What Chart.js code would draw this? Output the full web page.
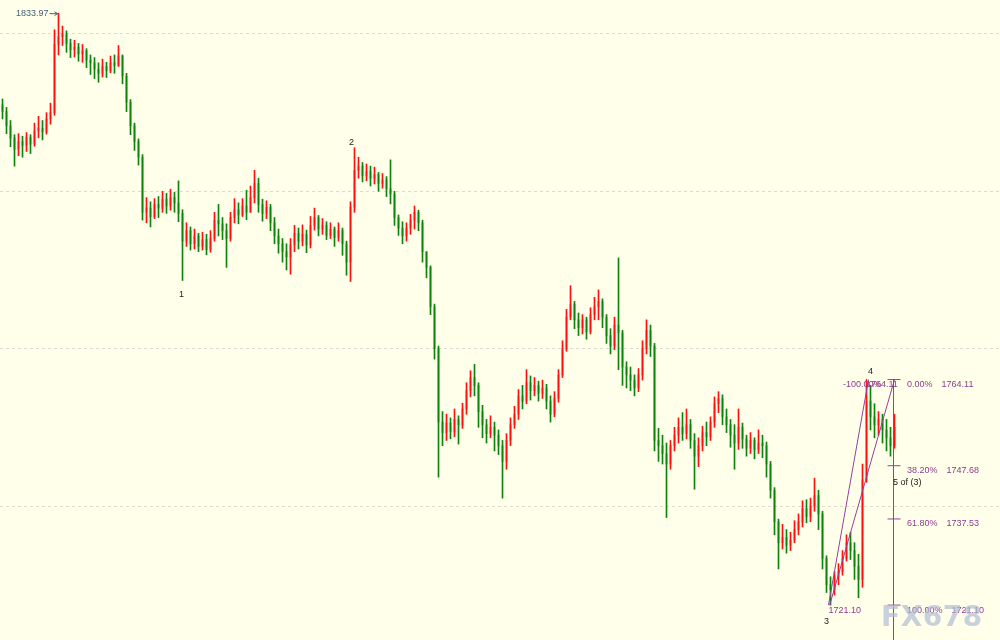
<!DOCTYPE html>
<html>
<head>
<meta charset="utf-8">
<script src="https://cdn.jsdelivr.net/npm/chart.js@4.4.0/dist/chart.umd.min.js"></script>
<style>
  html, body { margin: 0; padding: 0; background: #ffffea; }
  #wrap { width: 1000px; height: 640px; }
</style>
</head>
<body>
<div id="wrap"><canvas id="goldChart" width="1000" height="640"></canvas></div>
<script>
// price data, one candle per bar (open = previous close)
const firstOpen = 1816.5;
const closes = [
    1815.2, 1812.5, 1810.2, 1808.0, 1809.5, 1808.8, 1810.3, 1809.0, 1811.5, 1812.0,
    1811.3, 1813.8, 1815.0, 1828.0, 1829.5, 1830.0, 1828.2, 1827.0, 1827.5, 1826.2,
    1826.8, 1825.0, 1824.5, 1823.3, 1822.5, 1823.8, 1823.0, 1824.5, 1824.0, 1825.8,
    1822.0, 1817.0, 1812.5, 1809.5, 1806.5, 1796.0, 1796.8, 1795.2, 1797.5, 1796.8,
    1798.5, 1797.2, 1798.8, 1797.8, 1795.8, 1790.5, 1792.5, 1790.0, 1791.5, 1789.5,
    1790.8, 1788.9, 1791.0, 1794.5, 1793.8, 1792.5, 1791.0, 1795.0, 1796.5, 1795.5,
    1797.2, 1796.0, 1798.8, 1801.5, 1797.5, 1795.8, 1797.0, 1794.0, 1791.5, 1790.0,
    1788.5, 1787.5, 1789.8, 1792.0, 1790.5, 1791.8, 1789.8, 1793.5, 1795.0, 1792.8,
    1793.5, 1791.6, 1792.8, 1791.2, 1792.5, 1790.0, 1786.5, 1797.0, 1804.0, 1804.8,
    1803.0, 1803.8, 1802.5, 1803.2, 1801.5, 1802.2, 1800.5, 1799.5, 1795.0, 1793.0,
    1791.5, 1793.0, 1794.5, 1796.0, 1794.0, 1788.5, 1785.5, 1778.0, 1770.0, 1756.0,
    1754.0, 1755.8, 1754.2, 1756.5, 1755.5, 1758.5, 1762.0, 1764.5, 1763.0, 1758.0,
    1755.5, 1753.8, 1755.0, 1753.5, 1751.5, 1748.5, 1752.5, 1755.5, 1757.5, 1761.0,
    1760.0, 1763.5, 1762.0, 1763.0, 1761.5, 1762.5, 1760.0, 1757.5, 1760.5, 1765.0,
    1770.0, 1776.0, 1778.5, 1775.5, 1774.0, 1775.5, 1773.2, 1776.5, 1778.0, 1779.0,
    1776.0, 1772.5, 1770.5, 1774.5, 1773.0, 1766.5, 1765.0, 1764.0, 1762.5, 1765.0,
    1770.0, 1773.5, 1770.5, 1752.5, 1751.5, 1750.0, 1748.0, 1751.5, 1753.5, 1755.0,
    1753.8, 1755.5, 1752.5, 1749.5, 1751.5, 1754.0, 1753.2, 1756.0, 1759.5, 1760.5,
    1757.0, 1755.5, 1753.5, 1752.0, 1755.0, 1752.8, 1751.0, 1752.5, 1750.8, 1752.0,
    1751.5, 1748.0, 1743.0, 1737.0, 1733.0, 1734.0, 1732.5, 1733.5, 1735.5, 1737.0,
    1739.5, 1738.0, 1740.0, 1742.0, 1738.5, 1730.0, 1725.0, 1724.0, 1726.5, 1727.5,
    1730.0, 1733.0, 1731.5, 1728.5, 1726.0, 1745.0, 1760.0, 1757.0, 1755.5, 1756.5,
    1754.5, 1753.0, 1751.5, 1755.0
];
const highs = [
    1817.6, 1816.0, 1813.5, 1810.8, 1811.0, 1810.5, 1811.2, 1810.8, 1813.0, 1814.3,
    1813.5, 1815.0, 1816.8, 1830.8, 1833.97, 1831.5, 1830.6, 1829.0, 1828.8, 1828.2,
    1828.0, 1827.2, 1826.0, 1825.5, 1824.5, 1825.2, 1824.6, 1825.8, 1826.0, 1827.8,
    1826.0, 1822.5, 1817.5, 1813.0, 1810.0, 1807.0, 1798.8, 1798.0, 1798.6, 1799.0,
    1800.0, 1799.6, 1800.4, 1799.8, 1802.0, 1796.5, 1794.0, 1793.2, 1792.8, 1792.0,
    1792.2, 1791.8, 1792.5, 1796.0, 1797.5, 1795.0, 1793.8, 1796.0, 1798.6, 1797.8,
    1798.6, 1800.2, 1801.0, 1804.0, 1802.5, 1798.5, 1798.2, 1797.5, 1795.0, 1792.8,
    1791.0, 1790.0, 1791.0, 1793.5, 1793.0, 1793.6, 1792.6, 1795.2, 1796.8, 1795.4,
    1794.8, 1794.2, 1794.0, 1793.2, 1794.0, 1793.0, 1790.5, 1798.0, 1808.3, 1806.5,
    1805.5, 1805.2, 1804.8, 1804.6, 1803.6, 1803.4, 1802.8, 1806.0, 1800.0, 1795.5,
    1794.2, 1794.0, 1795.6, 1797.2, 1796.4, 1794.5, 1788.5, 1785.8, 1778.5, 1770.5,
    1758.0, 1757.5, 1756.8, 1758.5, 1757.2, 1759.6, 1763.5, 1765.8, 1767.0, 1763.5,
    1759.2, 1756.5, 1757.2, 1756.0, 1754.5, 1752.5, 1753.8, 1756.8, 1759.0, 1762.2,
    1763.0, 1766.0, 1764.8, 1764.5, 1763.8, 1764.0, 1763.2, 1761.0, 1761.8, 1766.0,
    1771.5, 1777.5, 1782.0, 1779.0, 1776.8, 1776.5, 1776.0, 1777.8, 1779.8, 1781.2,
    1779.5, 1776.5, 1773.8, 1776.0, 1787.3, 1773.5, 1767.5, 1766.5, 1765.0, 1766.2,
    1771.5, 1775.5, 1774.5, 1771.0, 1754.8, 1753.5, 1752.0, 1752.5, 1755.0, 1756.8,
    1757.8, 1758.5, 1756.5, 1753.8, 1753.0, 1755.2, 1756.0, 1757.0, 1760.8, 1761.8,
    1761.2, 1758.5, 1756.5, 1755.5, 1758.5, 1755.8, 1753.5, 1754.0, 1753.0, 1754.5,
    1753.5, 1752.2, 1748.5, 1743.5, 1737.5, 1736.5, 1735.5, 1735.0, 1737.2, 1738.5,
    1741.0, 1741.2, 1741.5, 1745.3, 1743.0, 1739.0, 1730.5, 1726.5, 1727.5, 1729.0,
    1731.5, 1734.5, 1735.0, 1733.0, 1730.8, 1748.0, 1764.11, 1763.0, 1759.5, 1758.0,
    1757.5, 1756.5, 1755.0, 1757.5
];
const lows = [
    1813.8, 1811.0, 1808.5, 1804.8, 1806.8, 1806.5, 1807.6, 1807.2, 1808.6, 1810.2,
    1809.8, 1810.9, 1812.8, 1814.5, 1826.0, 1827.8, 1826.5, 1825.5, 1825.6, 1824.8,
    1824.6, 1823.6, 1822.3, 1821.5, 1820.8, 1821.8, 1821.7, 1822.6, 1822.5, 1823.8,
    1820.5, 1815.2, 1810.8, 1807.8, 1805.0, 1794.5, 1794.0, 1793.2, 1794.8, 1795.0,
    1796.0, 1795.8, 1796.4, 1796.0, 1794.2, 1783.0, 1789.5, 1788.8, 1789.0, 1788.5,
    1788.8, 1787.9, 1788.4, 1790.5, 1791.5, 1790.8, 1785.5, 1790.5, 1794.0, 1793.8,
    1795.2, 1794.6, 1796.0, 1797.8, 1796.0, 1794.3, 1794.8, 1792.5, 1790.0, 1788.2,
    1786.5, 1785.0, 1784.2, 1788.5, 1789.0, 1789.6, 1788.3, 1789.2, 1792.6, 1791.5,
    1791.8, 1790.8, 1791.0, 1789.5, 1790.5, 1787.8, 1784.0, 1782.8, 1796.0, 1802.5,
    1801.8, 1802.0, 1801.0, 1801.4, 1800.0, 1800.6, 1799.0, 1797.6, 1793.5, 1791.6,
    1790.0, 1790.5, 1791.8, 1792.8, 1792.5, 1786.5, 1783.5, 1776.5, 1768.0, 1745.5,
    1751.5, 1752.5, 1752.8, 1753.2, 1751.8, 1754.8, 1757.5, 1760.8, 1761.0, 1755.0,
    1753.0, 1752.0, 1753.0, 1750.5, 1749.8, 1741.5, 1747.0, 1751.5, 1754.8, 1756.5,
    1758.5, 1759.5, 1760.2, 1761.0, 1760.0, 1760.5, 1758.5, 1756.0, 1757.0, 1759.8,
    1764.5, 1769.5, 1775.5, 1773.8, 1772.5, 1772.8, 1771.8, 1772.8, 1775.5, 1775.5,
    1774.0, 1771.0, 1769.0, 1769.8, 1766.0, 1763.0, 1762.5, 1762.0, 1761.0, 1761.8,
    1764.0, 1769.0, 1768.5, 1750.5, 1748.5, 1748.0, 1737.8, 1747.0, 1750.5, 1752.0,
    1752.5, 1752.8, 1751.0, 1743.2, 1747.5, 1750.5, 1751.5, 1752.5, 1755.0, 1757.8,
    1755.5, 1754.0, 1751.2, 1747.0, 1750.8, 1751.0, 1749.5, 1750.0, 1749.0, 1750.0,
    1749.2, 1745.5, 1741.5, 1734.5, 1728.0, 1731.8, 1731.0, 1731.5, 1733.0, 1734.5,
    1736.0, 1736.8, 1737.0, 1739.0, 1735.5, 1728.0, 1723.5, 1721.1, 1723.0, 1725.0,
    1726.8, 1729.5, 1729.8, 1726.0, 1722.5, 1724.5, 1744.5, 1754.5, 1753.0, 1753.5,
    1752.0, 1750.5, 1749.5, 1751.0
];

const gridLevels = [1740, 1770, 1800, 1830];
const fibLevels = [1764.11, 1747.68, 1737.53, 1721.10];
const fibLabels = ['0.00%', '38.20%', '61.80%', '100.00%'];
const topPrice = 1833.97;

const opens = closes.map((c, i) => i === 0 ? firstOpen : closes[i - 1]);
const upBar = i => closes[i] >= opens[i];

const purple = '#96409a';

// fib tool + the two trend lines from the 1721.10 low
const trendLines = [
    [{ x: 206.5, y: 1721.10 }, { x: 216.5, y: 1764.11 }],
    [{ x: 206.8, y: 1721.10 }, { x: 223.0, y: 1764.11 }]
];
const fibStem = [{ x: 222.75, y: 1764.11 }, { x: 222.75, y: 1700 }];

const lineSet = pts => ({
    type: 'line',
    data: pts,
    borderColor: purple,
    borderWidth: 1,
    pointRadius: 0,
    order: -1
});

const datasets = [{
    label: 'wick',
    data: closes.map((c, i) => ({ x: i, y: [lows[i], highs[i]] })),
    backgroundColor: closes.map((c, i) => upBar(i) ? '#ff1010' : '#0a840a'),
    barThickness: 1,
    grouped: false,
    order: 0
}, {
    label: 'body',
    data: closes.map((c, i) => ({ x: i, y: [opens[i], closes[i]] })),
    backgroundColor: closes.map((c, i) => upBar(i) ? 'rgba(255,60,60,0.45)' : 'rgba(40,150,40,0.45)'),
    barThickness: 2,
    minBarLength: 1,
    grouped: false,
    order: 1
}];
trendLines.forEach(t => datasets.push(lineSet(t)));
datasets.push(lineSet(fibStem));
fibLevels.forEach(v => datasets.push(lineSet([{ x: 221.25, y: v }, { x: 224.5, y: v }])));

// text labels drawn on top of the chart
const labelsPlugin = {
    id: 'labels',
    afterDatasetsDraw(chart) {
        const ctx = chart.ctx;
        const xs = chart.scales.x, ys = chart.scales.y;
        ctx.save();
        ctx.font = '9px "Liberation Sans"';
        ctx.textBaseline = 'middle';

        // top price label with arrow
        const hx = xs.getPixelForValue(14), hy = ys.getPixelForValue(topPrice);
        ctx.fillStyle = '#44607a';
        ctx.strokeStyle = '#44607a';
        ctx.textAlign = 'right';
        ctx.fillText(topPrice.toFixed(2), hx - 10, hy);
        ctx.beginPath();
        ctx.moveTo(hx - 9, hy + 0.5);
        ctx.lineTo(hx - 1, hy + 0.5);
        ctx.moveTo(hx - 4, hy - 1.5);
        ctx.lineTo(hx - 1, hy + 0.5);
        ctx.lineTo(hx - 4, hy + 2.5);
        ctx.stroke();

        // fib levels
        ctx.textAlign = 'left';
        ctx.fillStyle = '#8e3c8e';
        fibLevels.forEach((v, k) => {
            const y = ys.getPixelForValue(v) + 5;
            ctx.fillText(fibLabels[k], 907, y);
            const w = ctx.measureText(fibLabels[k]).width;
            ctx.fillText(v.toFixed(2), 907 + w + 9, y);
        });
        const y0 = ys.getPixelForValue(1764.11) + 5;
        ctx.fillText('-100.00%', 843, y0);
        ctx.fillText('1764.11', 866, y0);
        ctx.fillText('1721.10', xs.getPixelForValue(206.5), ys.getPixelForValue(1721.10) + 5);

        // wave counts
        ctx.fillStyle = '#222';
        ctx.textAlign = 'center';
        ctx.fillText('1', xs.getPixelForValue(44.75), ys.getPixelForValue(1780.4));
        ctx.fillText('2', xs.getPixelForValue(87.25), ys.getPixelForValue(1809.4));
        ctx.fillText('3', xs.getPixelForValue(206), ys.getPixelForValue(1717.9));
        ctx.fillText('4', xs.getPixelForValue(217), ys.getPixelForValue(1765.7));
        ctx.textAlign = 'left';
        ctx.fillText('5 of (3)', 893, ys.getPixelForValue(1744.4));

        // watermark
        ctx.font = 'bold 28px "DejaVu Sans"';
        ctx.textBaseline = 'alphabetic';
        ctx.fillStyle = 'rgba(175,190,212,0.7)';
        let wx = 881;
        for (const ch of 'FX678') {
            ctx.fillText(ch, wx, 626);
            wx += ctx.measureText(ch).width + 0.5;
        }
        ctx.restore();
    }
};

const goldChart = new Chart(document.getElementById('goldChart'), {
    type: 'bar',
    data: { datasets },
    options: {
        responsive: false,
        animation: false,
        events: [],
        layout: { padding: 0 },
        plugins: { legend: { display: false }, tooltip: { enabled: false } },
        scales: {
            x: {
                type: 'linear',
                display: false,
                offset: false,
                min: -0.625,
                max: 249.375
            },
            y: {
                min: 1714.45,
                max: 1836.48,
                afterBuildTicks: axis => { axis.ticks = gridLevels.map(v => ({ value: v })); },
                afterFit: axis => { axis.width = 0; },
                ticks: { display: false },
                grid: { color: '#dcdcd2', drawTicks: false },
                border: { display: false, dash: [3, 3] }
            }
        }
    },
    plugins: [labelsPlugin]
});
</script>
</body>
</html>
